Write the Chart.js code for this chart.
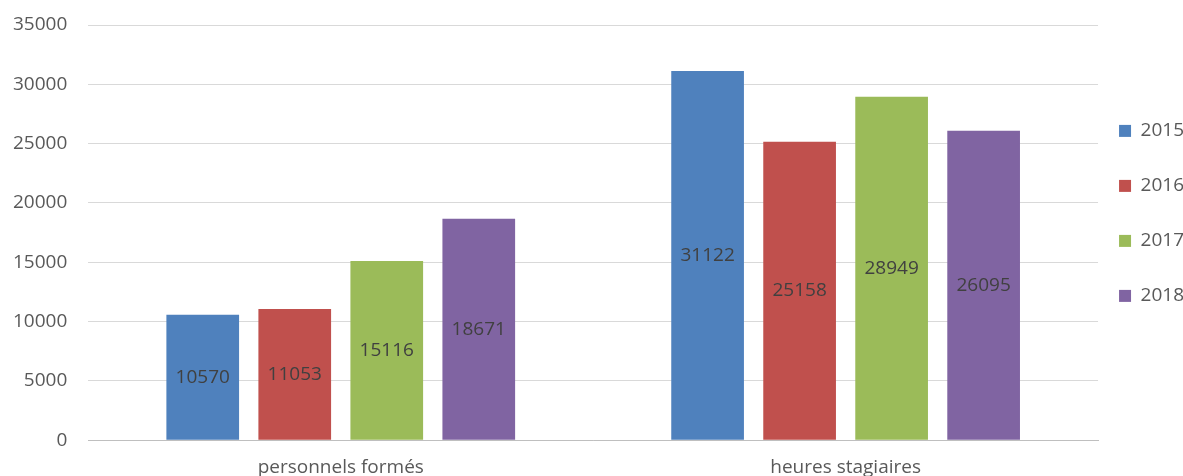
<!DOCTYPE html>
<html>
<head>
<meta charset="utf-8">
<script src="https://cdn.jsdelivr.net/npm/chart.js@4"></script>
<style>
  html, body { margin: 0; padding: 0; background: #fff; }
  #wrap { width: 1183px; height: 476px; }
</style>
</head>
<body>
<div id="wrap"><canvas id="chart"></canvas></div>
<script>
/* categories, years, values */
const categories = ['personnels formés', 'heures stagiaires'];
const years = ['2015', '2016', '2017', '2018'];
const values2015 = [10570, 31122];
const values2016 = [11053, 25158];
const values2017 = [15116, 28949];
const values2018 = [18671, 26095];
const yTicks = [0, 5000, 10000, 15000, 20000, 25000, 30000, 35000];

const COLORS = ['#4F81BD', '#C0504D', '#9BBB59', '#8064A2'];
const FONT = 'Open Sans';
const FSIZE = 19;

const series = [values2015, values2016, values2017, values2018];

// value labels centred in each bar
const centerLabels = {
  id: 'centerLabels',
  afterDatasetsDraw(chart) {
    const ctx = chart.ctx;
    ctx.save();
    ctx.font = FSIZE + 'px "' + FONT + '"';
    ctx.fillStyle = '#404040';
    ctx.textAlign = 'center';
    ctx.textBaseline = 'middle';
    chart.data.datasets.forEach((ds, i) => {
      chart.getDatasetMeta(i).data.forEach((bar, j) => {
        ctx.fillText(String(ds.data[j]), bar.x, (bar.y + bar.base) / 2);
      });
    });
    ctx.restore();
  }
};

// pull the legend a bit closer to the plot (its padding also sets the row gap)
const legendNudge = {
  id: 'legendNudge',
  afterLayout(chart) {
    const lg = chart.legend;
    lg.left -= 15;
    lg.right -= 15;
  }
};

new Chart(document.getElementById('chart'), {
  type: 'bar',
  data: {
    labels: categories,
    datasets: years.map((y, i) => ({
      label: y,
      data: series[i],
      backgroundColor: COLORS[i],
      categoryPercentage: 0.729,
      barPercentage: 0.79
    }))
  },
  options: {
    responsive: true,
    maintainAspectRatio: false,
    animation: false,
    layout: { padding: { top: 25, left: 13, right: -26, bottom: -19 } },
    plugins: {
      legend: {
        position: 'right',
        align: 'start',
        title: { display: true, text: '', padding: { top: 46, bottom: 0 } },
        labels: {
          color: '#595959',
          font: { family: FONT, size: FSIZE },
          boxWidth: 12,
          boxHeight: 12,
          padding: 36
        }
      },
      tooltip: { enabled: false }
    },
    scales: {
      x: {
        grid: { display: false, drawTicks: false },
        border: { display: true, color: '#BFBFBF' },
        ticks: { color: '#595959', font: { family: FONT, size: FSIZE }, padding: 16 }
      },
      y: {
        min: 0,
        max: 35000,
        afterBuildTicks: axis => { axis.ticks = yTicks.map(v => ({ value: v })); },
        grid: { color: '#D9D9D9', drawTicks: true, tickLength: 21, tickColor: 'rgba(0,0,0,0)' },
        border: { display: false },
        ticks: {
          color: '#595959',
          font: { family: FONT, size: FSIZE },
          padding: 0,
          callback: v => String(v)
        }
      }
    }
  },
  plugins: [centerLabels, legendNudge]
});
</script>
</body>
</html>
